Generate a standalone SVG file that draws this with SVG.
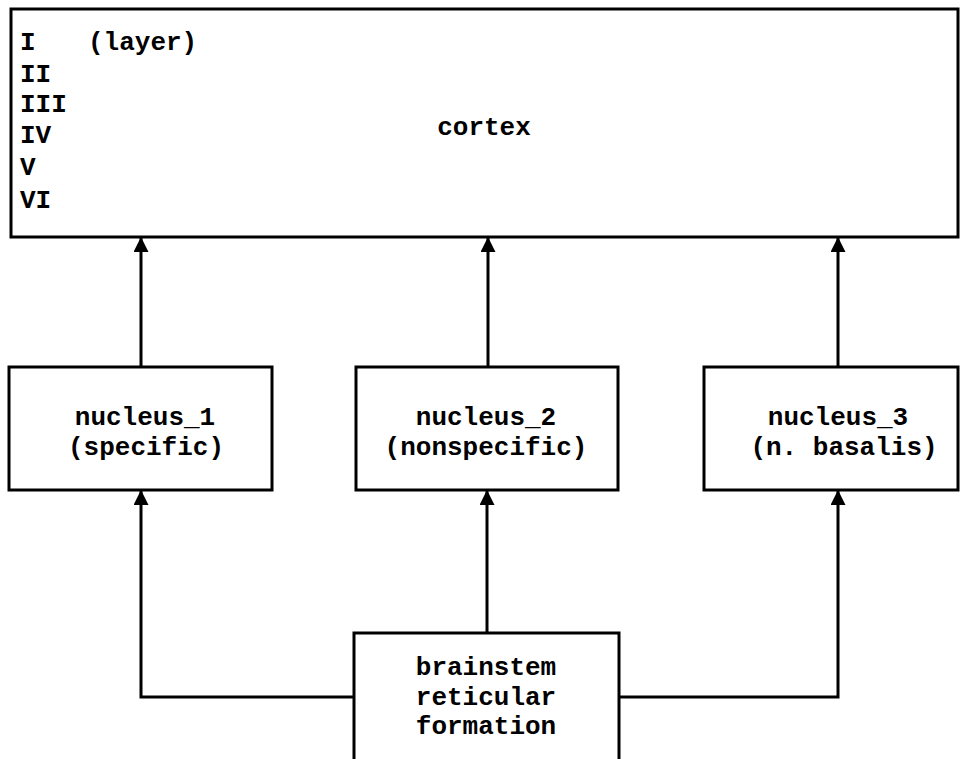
<svg xmlns="http://www.w3.org/2000/svg" width="971" height="759" viewBox="0 0 971 759">
<style>
.box{fill:#fff;stroke:#000;stroke-width:3}
.t{font-family:"Liberation Mono","DejaVu Sans Mono",monospace;font-size:26px;font-weight:bold;fill:#000}
.c{text-anchor:middle}
.ln{fill:none;stroke:#000;stroke-width:3;marker-end:url(#ah)}
</style>
<defs>
<marker id="ah" markerUnits="userSpaceOnUse" markerWidth="16" markerHeight="16" refX="14" refY="7.5" orient="auto">
<path d="M0,0 L15,7.5 L0,15 Z" fill="#000"/>
</marker>
</defs>
<rect width="971" height="759" fill="#fff"/>
<g id="connectors">
<path class="ln" d="M141,367 V238"/>
<path class="ln" d="M488,367 V238"/>
<path class="ln" d="M838,367 V238"/>
<path class="ln" d="M487,633 V491"/>
<path class="ln" d="M354,697 H141 V491"/>
<path class="ln" d="M619,697 H838 V491"/>
</g>
<g id="cortex">
<rect class="box" x="11" y="9" width="947" height="228"/>
<text class="t" x="20" y="50">I</text>
<text class="t" x="88" y="50">(layer)</text>
<text class="t" x="20" y="82">II</text>
<text class="t" x="20" y="112">III</text>
<text class="t" x="20" y="143">IV</text>
<text class="t" x="20" y="175">V</text>
<text class="t" x="20" y="208">VI</text>
<text class="t c" x="484" y="135">cortex</text>
</g>
<g id="nucleus_1">
<rect class="box" x="9" y="367" width="263" height="123"/>
<text class="t c" x="145" y="425">nucleus_1</text>
<text class="t c" x="146" y="455">(specific)</text>
</g>
<g id="nucleus_2">
<rect class="box" x="356" y="367" width="262" height="123"/>
<text class="t c" x="486" y="425">nucleus_2</text>
<text class="t c" x="486" y="455">(nonspecific)</text>
</g>
<g id="nucleus_3">
<rect class="box" x="704" y="367" width="254" height="123"/>
<text class="t c" x="838" y="425">nucleus_3</text>
<text class="t c" x="844" y="455">(n. basalis)</text>
</g>
<g id="brainstem">
<rect class="box" x="354" y="633" width="265" height="140"/>
<text class="t c" x="486" y="675">brainstem</text>
<text class="t c" x="486" y="705">reticular</text>
<text class="t c" x="486" y="734">formation</text>
</g>
</svg>
